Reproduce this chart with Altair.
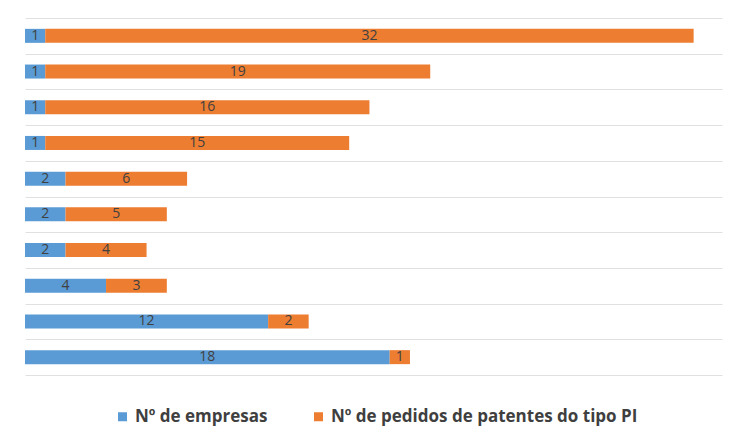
import altair as alt
import pandas as pd

rows = ["r1", "r2", "r3", "r4", "r5", "r6", "r7", "r8", "r9", "r10"]
empresas = [1, 1, 1, 1, 2, 2, 2, 4, 12, 18]
pedidos = [32, 19, 16, 15, 6, 5, 4, 3, 2, 1]
series = ["Nº de empresas", "Nº de pedidos de patentes do tipo PI"]
colors = ["#5B9BD5", "#ED7D31"]

recs = []
for r, e, p in zip(rows, empresas, pedidos):
    recs.append({"row": r, "serie": series[0], "value": e, "ord": 0})
    recs.append({"row": r, "serie": series[1], "value": p, "ord": 1})
df = pd.DataFrame(recs)

base = alt.Chart(df).transform_stack(
    stack="value", groupby=["row"], as_=["v0", "v1"], sort=[alt.SortField("ord")]
).transform_calculate(mid="(datum.v0 + datum.v1) / 2")

yscale = alt.Scale(paddingInner=0, paddingOuter=0)
yenc = alt.Y(
    "row:N", sort=rows, scale=yscale,
    axis=alt.Axis(labels=False, ticks=False, domain=False, title=None, grid=True,
                  tickBand="extent", gridColor="#e0e0e0", gridWidth=1),
)
xscale = alt.Scale(domain=[0, 34.4], nice=False, zero=True)

bars = base.mark_bar(height=14).encode(
    y=yenc,
    x=alt.X("v0:Q", scale=xscale, axis=None),
    x2="v1:Q",
    color=alt.Color(
        "serie:N",
        scale=alt.Scale(domain=series, range=colors),
        legend=alt.Legend(
            orient="none", legendX=89, legendY=390, direction="horizontal",
            title=None, symbolType="square", symbolSize=81, symbolStrokeWidth=0,
            labelFont="Open Sans", labelFontSize=17, labelFontWeight="bold",
            labelColor="#3f3f3f", labelLimit=0,
            columnPadding=42, labelOffset=4, padding=0,
        ),
    ),
)

labels = base.mark_text(font="Open Sans", fontSize=14, color="#404040").encode(
    y=alt.Y("row:N", sort=rows, scale=yscale),
    x=alt.X("mid:Q", scale=xscale),
    text="value:Q",
)

chart = alt.layer(bars, labels).properties(
    width=697, height=357,
    autosize=alt.AutoSizeParams(type="none"),
    padding={"left": 25, "top": 18, "right": 9, "bottom": 54},
    background="white",
).configure_view(stroke=None)

chart.save("out.html", embed_options={"renderer": "svg", "actions": False})
